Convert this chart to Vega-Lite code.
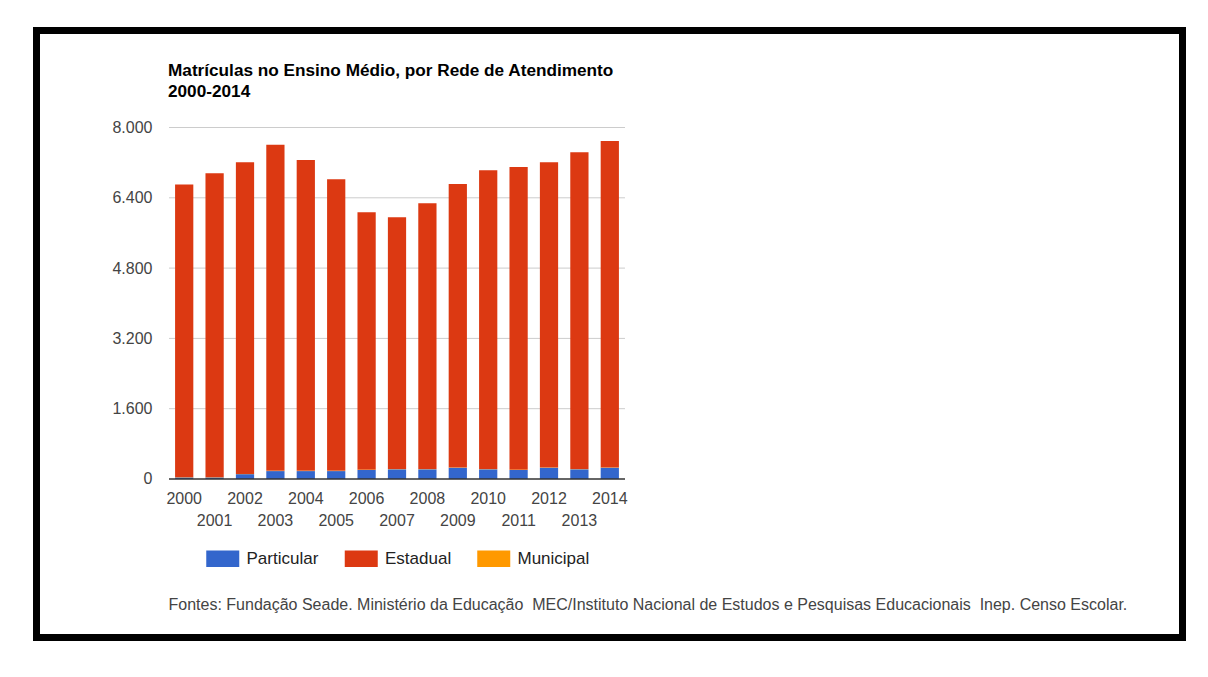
{
  "$schema": "https://vega.github.io/schema/vega-lite/v6.json",
  "autosize": {"type": "none"},
  "width": 1146,
  "height": 607,
  "padding": {"left": 36.5, "top": 30.5, "right": 25.5, "bottom": 39.5},
  "background": "#ffffff",
  "config": {
    "view": {"stroke": "#000000", "strokeWidth": 7, "fill": "#ffffff"},
    "font": "Liberation Sans"
  },
  "title": {
    "text": ["Matrículas no Ensino Médio, por Rede de Atendimento", "2000-2014"],
    "anchor": "start",
    "frame": "group",
    "orient": "top",
    "baseline": "top",
    "offset": 0,
    "dx": 131.5,
    "dy": 69.5,
    "fontSize": 17.2,
    "fontWeight": "bold",
    "color": "#000000",
    "lineHeight": 21,
    "font": "Liberation Sans"
  },
  "datasets": {
    "grid": [
      {"v": 1600}, {"v": 3200}, {"v": 4800}, {"v": 6400}, {"v": 8000}
    ],
    "base": [{"v": 0}],
    "matriculas": [
      {"ano": "2000", "rede": "Particular", "valor": 35},
      {"ano": "2000", "rede": "Estadual", "valor": 6663},
      {"ano": "2000", "rede": "Municipal", "valor": 5},
      {"ano": "2001", "rede": "Particular", "valor": 35},
      {"ano": "2001", "rede": "Estadual", "valor": 6918},
      {"ano": "2001", "rede": "Municipal", "valor": 5},
      {"ano": "2002", "rede": "Particular", "valor": 110},
      {"ano": "2002", "rede": "Estadual", "valor": 7093},
      {"ano": "2002", "rede": "Municipal", "valor": 5},
      {"ano": "2003", "rede": "Particular", "valor": 180},
      {"ano": "2003", "rede": "Estadual", "valor": 7424},
      {"ano": "2003", "rede": "Municipal", "valor": 5},
      {"ano": "2004", "rede": "Particular", "valor": 180},
      {"ano": "2004", "rede": "Estadual", "valor": 7075},
      {"ano": "2004", "rede": "Municipal", "valor": 5},
      {"ano": "2005", "rede": "Particular", "valor": 180},
      {"ano": "2005", "rede": "Estadual", "valor": 6636},
      {"ano": "2005", "rede": "Municipal", "valor": 5},
      {"ano": "2006", "rede": "Particular", "valor": 205},
      {"ano": "2006", "rede": "Estadual", "valor": 5860},
      {"ano": "2006", "rede": "Municipal", "valor": 5},
      {"ano": "2007", "rede": "Particular", "valor": 220},
      {"ano": "2007", "rede": "Estadual", "valor": 5731},
      {"ano": "2007", "rede": "Municipal", "valor": 5},
      {"ano": "2008", "rede": "Particular", "valor": 220},
      {"ano": "2008", "rede": "Estadual", "valor": 6050},
      {"ano": "2008", "rede": "Municipal", "valor": 5},
      {"ano": "2009", "rede": "Particular", "valor": 257},
      {"ano": "2009", "rede": "Estadual", "valor": 6452},
      {"ano": "2009", "rede": "Municipal", "valor": 5},
      {"ano": "2010", "rede": "Particular", "valor": 220},
      {"ano": "2010", "rede": "Estadual", "valor": 6801},
      {"ano": "2010", "rede": "Municipal", "valor": 5},
      {"ano": "2011", "rede": "Particular", "valor": 205},
      {"ano": "2011", "rede": "Estadual", "valor": 6891},
      {"ano": "2011", "rede": "Municipal", "valor": 5},
      {"ano": "2012", "rede": "Particular", "valor": 257},
      {"ano": "2012", "rede": "Estadual", "valor": 6946},
      {"ano": "2012", "rede": "Municipal", "valor": 5},
      {"ano": "2013", "rede": "Particular", "valor": 220},
      {"ano": "2013", "rede": "Estadual", "valor": 7211},
      {"ano": "2013", "rede": "Municipal", "valor": 5},
      {"ano": "2014", "rede": "Particular", "valor": 257},
      {"ano": "2014", "rede": "Estadual", "valor": 7431},
      {"ano": "2014", "rede": "Municipal", "valor": 5}
    ]
  },
  "layer": [
    {
      "data": {"name": "grid"},
      "mark": {"type": "rule", "stroke": "#cccccc", "strokeWidth": 1},
      "encoding": {
        "y": {"field": "v", "type": "quantitative",
              "scale": {"domain": [-3608, 10208], "nice": false, "zero": false}},
        "x": {"datum": "2000", "type": "ordinal", "bandPosition": -0.3333},
        "x2": {"datum": "2014", "bandPosition": 1.3333}
      }
    },
    {
      "data": {"name": "matriculas"},
      "mark": {"type": "bar"},
      "encoding": {
        "x": {
          "field": "ano", "type": "ordinal",
          "scale": {"range": [132.5, 588.5], "paddingInner": 0.4, "paddingOuter": 0.2, "round": false},
          "axis": {
            "title": "Fontes: Fundação Seade. Ministério da Educação\u00a0 MEC/Instituto Nacional de Estudos e Pesquisas Educacionais\u00a0 Inep. Censo Escolar.",
            "titleX": 131.5,
            "titleY": 125,
            "titleAlign": "left",
            "titleAnchor": null,
            "titleBaseline": "middle",
            "titleFontSize": 16,
            "titleFontWeight": "normal",
            "titleColor": "#444444",
            "titleFont": "Liberation Sans",
            "offset": -158.5,
            "bandPosition": 0.5,
            "domain": false,
            "ticks": false,
            "grid": false,
            "labelAngle": 0,
            "labelAlign": "center",
            "labelPadding": 11.5,
            "labelBaseline": "top",
            "labelFontSize": 16,
            "labelColor": "#444444",
            "labelLineHeight": 21.5,
            "labelExpr": "toNumber(datum.value) % 2 == 1 ? ['\u00a0', datum.value] : datum.value"
          }
        },
        "y": {
          "field": "valor", "type": "quantitative", "stack": "zero",
          "scale": {"domain": [-3608, 10208], "nice": false, "zero": false},
          "axis": {
            "title": null,
            "values": [0, 1600, 3200, 4800, 6400, 8000],
            "offset": -132.5,
            "domain": false,
            "ticks": false,
            "grid": false,
            "labelPadding": 17,
            "labelFontSize": 16,
            "labelColor": "#444444",
            "labelExpr": "replace(format(datum.value, ','), ',', '.')"
          }
        },
        "color": {
          "field": "rede", "type": "nominal",
          "sort": ["Particular", "Estadual", "Municipal"],
          "scale": {"domain": ["Particular", "Estadual", "Municipal"], "range": ["#3366cc", "#dc3912", "#ff9900"]},
          "legend": {
            "title": null,
            "orient": "none",
            "legendX": 169.5,
            "legendY": 519.5,
            "direction": "horizontal",
            "columns": 3,
            "padding": 0,
            "symbolType": "M-1,-1H3V1H-1Z",
            "symbolSize": 272.25,
            "symbolStrokeWidth": 0,
            "labelOffset": 23.5,
            "columnPadding": 25.5,
            "labelFontSize": 17,
            "labelColor": "#222222",
            "labelFont": "Liberation Sans"
          }
        }
      }
    },
    {
      "data": {"name": "base"},
      "mark": {"type": "rule", "stroke": "#333333", "strokeWidth": 1.5},
      "encoding": {
        "y": {"field": "v", "type": "quantitative",
              "scale": {"domain": [-3608, 10208], "nice": false, "zero": false}},
        "x": {"datum": "2000", "type": "ordinal", "bandPosition": -0.3333},
        "x2": {"datum": "2014", "bandPosition": 1.3333}
      }
    }
  ]
}
